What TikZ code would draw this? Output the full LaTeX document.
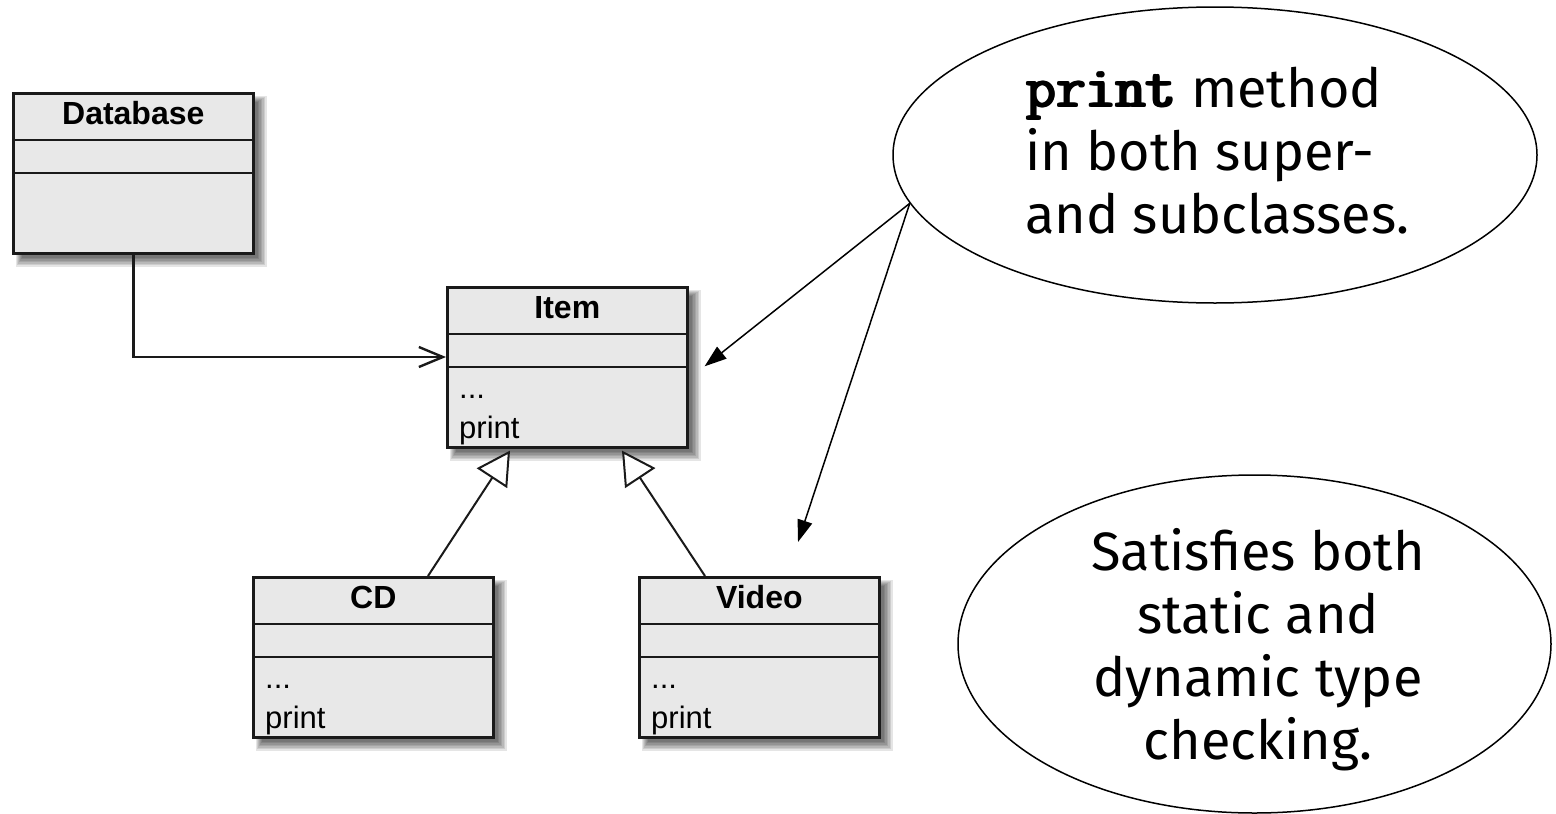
\documentclass[tikz,border=0pt]{standalone}
\usepackage{fontspec}
\setmainfont{Liberation Sans}
\newfontfamily\notefont{Fira Sans}
\usetikzlibrary{arrows.meta,calc,shapes.geometric,backgrounds}

\definecolor{boxfill}{HTML}{E8E8E8}
\definecolor{boxline}{HTML}{1A1A1A}

\tikzset{
  umlclass/.style={rectangle, draw=boxline, fill=boxfill, line width=2.6pt,
    minimum width=240pt, minimum height=160pt, inner sep=0pt, anchor=north west},
  umlrule/.style={draw=boxline, line width=2.4pt},
  umltitle/.style={font=\fontsize{32}{32}\selectfont\bfseries, anchor=base, inner sep=0pt},
  umlmember/.style={font=\fontsize{31}{31}\selectfont, anchor=base west, inner sep=0pt},
  assoc/.style={draw=boxline, line width=2.4pt,
    -{Straight Barb[length=24pt,width=20pt,line width=2.4pt]}},
  inherit/.style={draw=boxline, line width=2pt,
    -{Triangle[open,length=33pt,width=36pt,fill=white,line width=2pt]}},
  note/.style={ellipse, draw=black, line width=1.5pt, fill=white, inner sep=0pt},
  pointer/.style={draw=black, line width=1.5pt, -{Triangle[length=22pt,width=15pt]}},
  notetext/.style={font=\notefont\fontsize{54}{63}\selectfont, inner sep=0pt},
}

% heavy typewriter word: the glyphs are overprinted with small offsets
\newcommand{\heavytt}[1]{\rlap{#1}\rlap{\kern1.2pt#1}\rlap{\kern2.4pt#1}%
  \rlap{\raisebox{1pt}{#1}}\rlap{\kern1.2pt\raisebox{1pt}{#1}}\kern2.4pt\raisebox{1pt}{#1}}
\newcommand{\codeword}[1]{{\ttfamily\fontsize{58}{63}\selectfont\heavytt{#1}}}

% class box: name, north-west corner, title
\newcommand{\classbox}[3]{%
  \node[umlclass] (#1) at (#2) {};
  \draw[umlrule] ($(#1.north west)+(0,48)$) -- ($(#1.north east)+(0,48)$);
  \draw[umlrule] ($(#1.north west)+(0,81)$) -- ($(#1.north east)+(0,81)$);
  \node[umltitle] (#1-title) at ($(#1.north)+(0,32)$) {#3};
}
% method compartment with "..." and "print"
\newcommand{\classmethods}[1]{%
  \node[umlmember] (#1-dots) at ($(#1.north west)+(13,112)$) {...};
  \node[umlmember] (#1-print) at ($(#1.north west)+(13,152)$) {print};
}

\begin{document}
\begin{tikzpicture}[x=1pt,y=-1pt]
  \useasboundingbox (0,0) rectangle (1556,814);

  % classes
  \classbox{db}{12,92}{Database}
  \classbox{item}{446,286}{Item}
  \classmethods{item}
  \classbox{cd}{252,576}{CD}
  \classmethods{cd}
  \classbox{video}{638,576}{Video}
  \classmethods{video}

  % association and inheritance
  \draw[assoc] (db.south) |- ($(item.north west)+(0,71)$);
  \draw[inherit] ($(cd.north west)+(176,0)$) -- ($(item.south west)+(64,2)$);
  \draw[inherit] ($(video.north west)+(67,0)$) -- ($(item.south west)+(176,2)$);

  % callouts
  \node[note, minimum width=644pt, minimum height=296pt] (note1) at (1215,155) {};
  \node[notetext, anchor=base west] (note1-a) at (1025,107) {\codeword{print} method};
  \node[notetext, anchor=base west] (note1-b) at (1025,170) {in both super-};
  \node[notetext, anchor=base west] (note1-c) at (1025,233) {and subclasses.};

  \node[note, minimum width=593pt, minimum height=338pt] (note2) at (1254.5,644) {};
  \node[notetext, anchor=base] (note2-a) at (1258,570) {Satisfies both};
  \node[notetext, anchor=base] (note2-b) at (1258,633) {static and};
  \node[notetext, anchor=base] (note2-c) at (1258,696) {dynamic type};
  \node[notetext, anchor=base] (note2-d) at (1258,759) {checking.};

  \coordinate (p1) at ($(item.east)+(16,-1)$);
  \coordinate (p2) at (798,542);
  \draw[pointer] (note1.189.7) -- (p1);
  \draw[pointer] (note1.189.7) -- (p2);

  % page and drop shadows
  \begin{pgfonlayer}{background}
    \fill[white] (0,0) rectangle (1556,814);
    \foreach \n in {db,item,cd,video} {
      \foreach \i in {0,...,6} {
        \fill[black, opacity=0.1]
          ($(\n.north west)+(4+\i,4+\i)$) rectangle ($(\n.south east)+(12-1.5*\i,12-1.5*\i)$);
      }
    }
  \end{pgfonlayer}
\end{tikzpicture}
\end{document}
